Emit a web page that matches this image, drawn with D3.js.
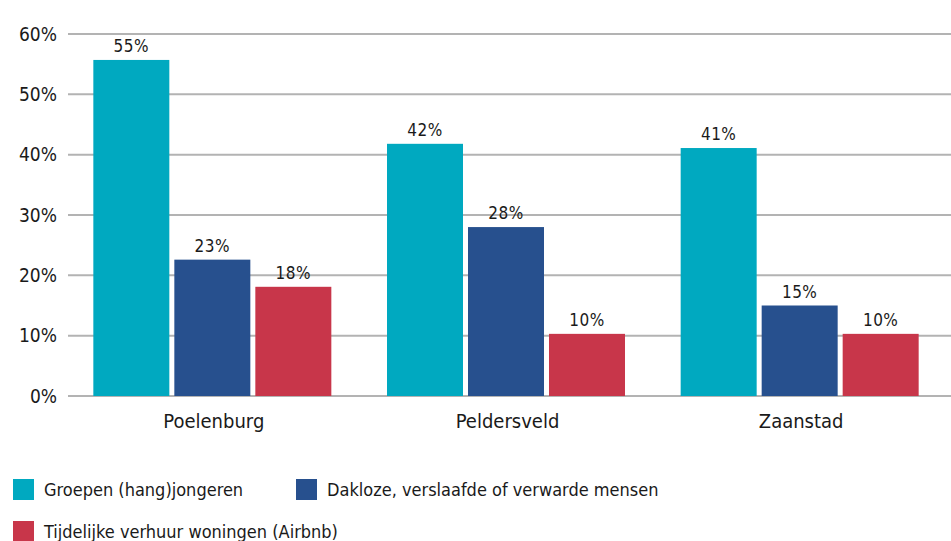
<!DOCTYPE html>
<html><head><meta charset="utf-8">
<script src="https://cdn.jsdelivr.net/npm/d3@7"></script>
<style>html,body{margin:0;padding:0;background:#fff;}svg{display:block;}
text{font-family:"DejaVu Sans Condensed","Liberation Sans Narrow","Roboto",sans-serif;fill:#1a1a1a;}</style>
</head><body>
<svg id="c" width="951" height="541"></svg>
<script>
const categories = ["Poelenburg", "Peldersveld", "Zaanstad"];
const seriesNames = ["Groepen (hang)jongeren", "Dakloze, verslaafde of verwarde mensen", "Tijdelijke verhuur woningen (Airbnb)"];
const groepen = [55.7, 41.8, 41.1];
const dakloze = [22.6, 28.0, 15.0];
const tijdelijk = [18.1, 10.3, 10.3];
const labelsGroepen = ["55%", "42%", "41%"];
const labelsDakloze = ["23%", "28%", "15%"];
const labelsTijdelijk = ["18%", "10%", "10%"];
const yTicks = [0, 10, 20, 30, 40, 50, 60];
const colors = ["#00A9C0", "#27508E", "#C8364A"];

const series = [groepen, dakloze, tijdelijk];
const labels = [labelsGroepen, labelsDakloze, labelsTijdelijk];
const svg = d3.select("#c");
const y = d3.scaleLinear().domain([0, 60]).range([396, 34]);
const x0 = d3.scaleBand().domain(categories).range([67, 948]).paddingInner(0).paddingOuter(0);
const x1 = d3.scaleBand().domain([0,1,2]).range([0, 243]);
const gx = d => x0(d) + (x0.bandwidth() - 243) / 2;

// gridlines
svg.append("g").selectAll("line").data(yTicks).join("line")
  .attr("x1", 68).attr("x2", 951)
  .attr("y1", d => y(d)).attr("y2", d => y(d))
  .attr("stroke", "#b3b3b3").attr("stroke-width", 2);
// y labels
svg.append("g").selectAll("text").data(yTicks).join("text")
  .attr("x", 57).attr("y", d => y(d)).attr("dy", "0.35em")
  .attr("text-anchor", "end").attr("font-size", 19)
  .text(d => d + "%");

// bars
series.forEach((vals, si) => {
  const g = svg.append("g");
  g.selectAll("rect").data(vals).join("rect")
    .attr("x", (d, i) => gx(categories[i]) + x1(si) + 1)
    .attr("width", x1.bandwidth() - 5)
    .attr("y", d => y(d)).attr("height", d => y(0) - y(d))
    .attr("fill", colors[si]);
  g.selectAll("text").data(vals).join("text")
    .attr("x", (d, i) => gx(categories[i]) + x1(si) + 1 + (x1.bandwidth() - 5) / 2)
    .attr("y", d => y(d) - 8)
    .attr("text-anchor", "middle").attr("font-size", 17)
    .attr("letter-spacing", "0.5px")
    .text((d, i) => labels[si][i]);
});

// x labels
svg.append("g").selectAll("text").data(categories).join("text")
  .attr("x", d => x0(d) + x0.bandwidth() / 2).attr("y", 428)
  .attr("text-anchor", "middle").attr("font-size", 20)
  .text(d => d);

// legend
const legPos = [[13, 479], [296, 479], [13, 521]];
const leg = svg.append("g").selectAll("g").data(seriesNames).join("g")
  .attr("transform", (d, i) => `translate(${legPos[i][0]},${legPos[i][1]})`);
leg.append("rect").attr("width", 21).attr("height", 21).attr("fill", (d, i) => colors[i]);
leg.append("text").attr("x", 31).attr("y", 11).attr("dy", "0.35em")
  .attr("font-size", 18).text(d => d);
</script>
</body></html>
